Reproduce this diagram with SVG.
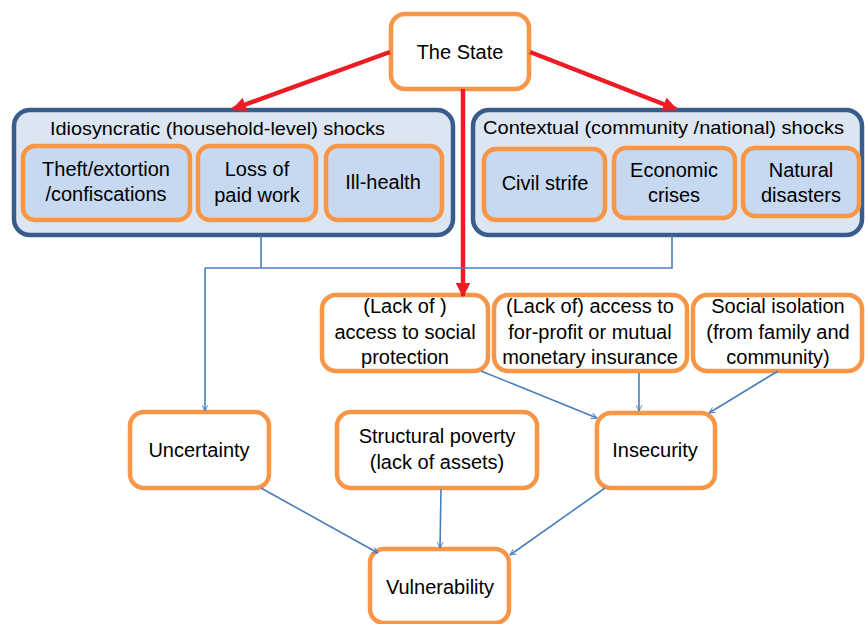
<svg xmlns="http://www.w3.org/2000/svg" width="865" height="624" viewBox="0 0 865 624">
<defs>
<style>
text{font-family:"Liberation Sans",Arial,sans-serif;font-size:20px;fill:#000;text-anchor:middle}
.t{font-size:19px;text-anchor:start}
.node{fill:#fff;stroke:#F79646;stroke-width:4.5}
.inner{fill:#C6D9F1;stroke:#F79646;stroke-width:4.5}
.grp{fill:#DCE6F2;stroke:#385D8A;stroke-width:4.5}
.red{stroke:#ED1C24;stroke-width:4.5;fill:none}
.blue{stroke:#4A7EBB;stroke-width:1.6;fill:none}
</style>
<marker id="ra" viewBox="0 0 10 10" refX="9" refY="5" markerWidth="3.2" markerHeight="3.2" orient="auto" markerUnits="strokeWidth">
<path d="M0,0 L10,5 L0,10 Z" fill="#ED1C24"/>
</marker>
<marker id="ba" viewBox="0 0 12 12" refX="11" refY="6" markerWidth="7" markerHeight="7" orient="auto" markerUnits="userSpaceOnUse">
<path d="M1,1 L11,6 L1,11" fill="none" stroke="#4A7EBB" stroke-width="1.6"/>
</marker>
</defs>
<rect width="865" height="624" fill="#fff"/>

<g id="idiosyncratic">
<rect class="grp" x="14" y="110" width="439" height="125" rx="16"/>
<text class="t" x="50" y="135" textLength="335" lengthAdjust="spacingAndGlyphs">Idiosyncratic (household-level) shocks</text>
</g>
<g id="theft">
<rect class="inner" x="23" y="146" width="167" height="74" rx="12"/>
<text x="106" y="176">Theft/extortion</text>
<text x="106" y="201">/confiscations</text>
</g>
<g id="loss">
<rect class="inner" x="198" y="146" width="118" height="74" rx="12"/>
<text x="257" y="176">Loss of</text>
<text x="257" y="202">paid work</text>
</g>
<g id="illhealth">
<rect class="inner" x="326" y="146" width="116" height="74" rx="12"/>
<text x="383" y="189">Ill-health</text>
</g>

<g id="contextual">
<rect class="grp" x="473" y="110" width="389" height="125" rx="16"/>
<text class="t" x="483" y="134" textLength="361" lengthAdjust="spacingAndGlyphs">Contextual (community /national) shocks</text>
</g>
<g id="civil">
<rect class="inner" x="484" y="149" width="121" height="71" rx="12"/>
<text x="545" y="190">Civil strife</text>
</g>
<g id="economic">
<rect class="inner" x="614" y="148" width="121" height="70" rx="12"/>
<text x="674" y="177">Economic</text>
<text x="674" y="202">crises</text>
</g>
<g id="natural">
<rect class="inner" x="743" y="148" width="116" height="68" rx="12"/>
<text x="801" y="177">Natural</text>
<text x="801" y="202">disasters</text>
</g>

<g id="state">
<rect class="node" x="391" y="14" width="138" height="75" rx="14"/>
<text x="460" y="59">The State</text>
</g>

<g id="social-protection">
<rect class="node" x="322" y="295" width="166" height="76" rx="14"/>
<text x="405" y="313">(Lack of )</text>
<text x="405" y="339">access to social</text>
<text x="405" y="364">protection</text>
</g>
<g id="insurance">
<rect class="node" x="494" y="295" width="193" height="76" rx="14"/>
<text x="590" y="313">(Lack of) access to</text>
<text x="590" y="339">for-profit or mutual</text>
<text x="590" y="364">monetary insurance</text>
</g>
<g id="isolation">
<rect class="node" x="693" y="295" width="169" height="76" rx="14"/>
<text x="778" y="313">Social isolation</text>
<text x="778" y="339">(from family and</text>
<text x="778" y="364">community)</text>
</g>

<g id="uncertainty">
<rect class="node" x="130" y="412" width="139" height="76" rx="14"/>
<text x="199" y="457">Uncertainty</text>
</g>
<g id="poverty">
<rect class="node" x="337" y="412" width="200" height="76" rx="14"/>
<text x="437" y="443">Structural poverty</text>
<text x="437" y="469">(lack of assets)</text>
</g>
<g id="insecurity">
<rect class="node" x="597" y="413" width="118" height="75" rx="14"/>
<text x="655" y="457">Insecurity</text>
</g>
<g id="vulnerability">
<rect class="node" x="370" y="549" width="139" height="74" rx="14"/>
<text x="440" y="594">Vulnerability</text>
</g>

<g id="connectors">
<path class="red" d="M390,52 L233,109" marker-end="url(#ra)"/>
<path class="red" d="M530,52 L676,109" marker-end="url(#ra)"/>
<path class="red" d="M463,89 L463,296" marker-end="url(#ra)"/>
<path class="blue" d="M261,236 V268"/>
<path class="blue" d="M672,236 V268 H205"/>
<path class="blue" d="M205,268 V411" marker-end="url(#ba)"/>
<path class="blue" d="M481,371 L597,418" marker-end="url(#ba)"/>
<path class="blue" d="M639,373 V411" marker-end="url(#ba)"/>
<path class="blue" d="M778,371 L709,413" marker-end="url(#ba)"/>
<path class="blue" d="M261,488 L378,553" marker-end="url(#ba)"/>
<path class="blue" d="M441,489 L440,548" marker-end="url(#ba)"/>
<path class="blue" d="M605,488 L510,555" marker-end="url(#ba)"/>
</g>
</svg>
